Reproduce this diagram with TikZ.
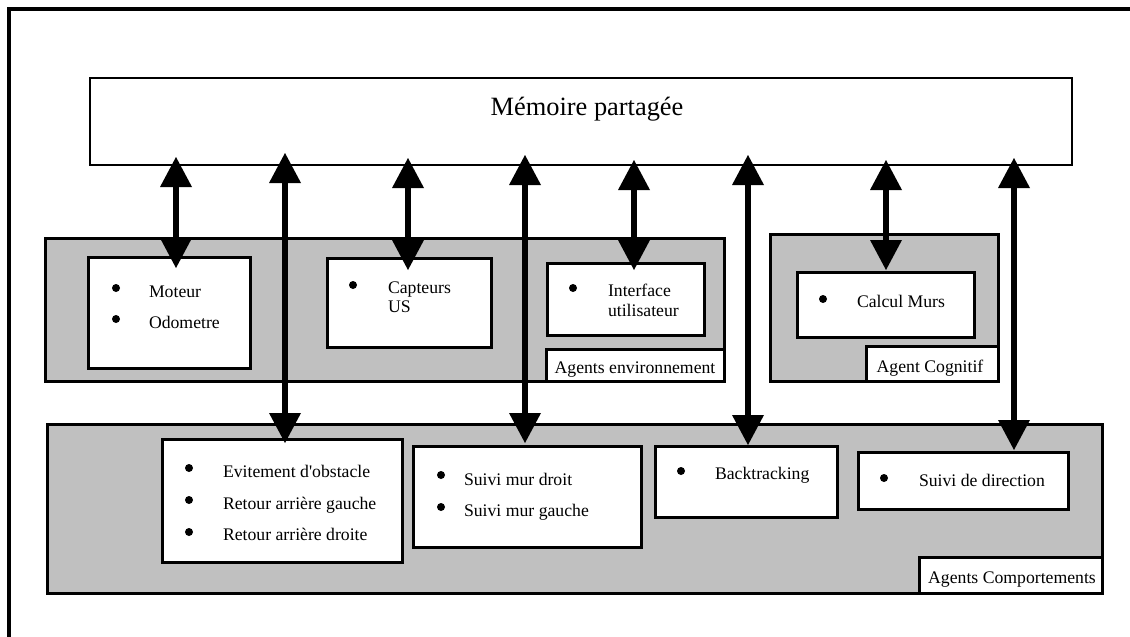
\documentclass[tikz,border=0pt]{standalone}
\usepackage{fontspec}
\setmainfont{Liberation Serif}
\usetikzlibrary{arrows.meta,calc}
\definecolor{boxgray}{RGB}{192,192,192}
\tikzset{
  box/.style={draw, line width=3pt, fill=white, inner sep=0pt, outer sep=0pt, anchor=north west},
  graybox/.style={draw, line width=3pt, fill=boxgray, inner sep=0pt, outer sep=0pt, anchor=north west},
  txt/.style={inner sep=0pt, outer sep=0pt, anchor=base west, font=\fontsize{17.7}{20}\selectfont},
  lbl/.style={inner sep=0pt, outer sep=0pt, anchor=base, font=\fontsize{17.7}{20}\selectfont},
  bul/.style={circle, fill=black, inner sep=0pt, outer sep=0pt, minimum size=8pt},
  tri/.tip={Triangle[length=30pt,width=32pt,line width=0pt]},
  dbl/.style={line width=6.5pt, tri-tri}
}
\begin{document}
\begin{tikzpicture}[x=1pt,y=-1pt]
\useasboundingbox (0,0) rectangle (1130,637);
% outer frame
\draw[line width=4pt] (9,645) -- (9,9) -- (1140,9);
% shared memory
\node[box, line width=2.5pt, minimum width=982pt, minimum height=87pt] (mem) at (90,78) {};
\node[inner sep=0pt, anchor=base, font=\fontsize{26.4}{30}\selectfont] (memtxt) at (587,115) {Mémoire partagée};
% environment agents
\node[graybox, minimum width=679pt, minimum height=143pt] (envg) at (45,238) {};
\node[box, minimum width=162pt, minimum height=111pt] (moteur) at (88,257) {};
\node[box, minimum width=164pt, minimum height=89pt] (capteurs) at (327,258) {};
\node[box, minimum width=157pt, minimum height=72pt] (interface) at (547,263) {};
\node[box, minimum width=178pt, minimum height=32pt] (envlabel) at (546,349) {};
\node[lbl] (envtxt) at (635,373) {Agents environnement};
\node[bul] (b1) at (116,288) {};
\node[txt] (t1) at (149,297) {Moteur};
\node[bul] (b2) at (116,319) {};
\node[txt] (t2) at (149,328) {Odometre};
\node[bul] (b3) at (353,285) {};
\node[txt] (t3) at (388,293) {Capteurs};
\node[txt] (t3b) at (388,312) {US};
\node[bul] (b4) at (573,288) {};
\node[txt] (t4) at (608,296) {Interface};
\node[txt] (t4b) at (608,316) {utilisateur};
% cognitive agent
\node[graybox, minimum width=228pt, minimum height=147pt] (cogg) at (770,234) {};
\node[box, minimum width=177pt, minimum height=65pt] (calcul) at (797,272) {};
\node[box, minimum width=132pt, minimum height=35pt] (coglabel) at (866,346) {};
\node[lbl] (cogtxt) at (930,372) {Agent Cognitif};
\node[bul] (b5) at (823,299) {};
\node[txt] (t5) at (857,307) {Calcul Murs};
% behaviour agents
\node[graybox, minimum width=1055pt, minimum height=169pt] (compg) at (47,424) {};
\node[box, minimum width=240pt, minimum height=123pt] (evit) at (162,439) {};
\node[box, minimum width=228pt, minimum height=101pt] (suivimur) at (413,446) {};
\node[box, minimum width=182pt, minimum height=71pt] (backtr) at (655,446) {};
\node[box, minimum width=210pt, minimum height=57pt] (suividir) at (858,452) {};
\node[box, minimum width=183pt, minimum height=36pt] (complabel) at (919,557) {};
\node[lbl] (comptxt) at (1012,583) {Agents Comportements};
\node[bul] (b6) at (189,468) {};
\node[txt] (t6) at (223,477) {Evitement d\textquotesingle obstacle};
\node[bul] (b7) at (189,500) {};
\node[txt] (t7) at (223,509) {Retour arrière gauche};
\node[bul] (b8) at (189,532) {};
\node[txt] (t8) at (223,540) {Retour arrière droite};
\node[bul] (b9) at (441,475) {};
\node[txt] (t9) at (464,485) {Suivi mur droit};
\node[bul] (b10) at (441,507) {};
\node[txt] (t10) at (464,516) {Suivi mur gauche};
\node[bul] (b11) at (681,471) {};
\node[txt] (t11) at (715,479) {Backtracking};
\node[bul] (b12) at (884,478) {};
\node[txt] (t12) at (919,486) {Suivi de direction};
% arrows
\coordinate (a1) at (176,0);
\coordinate (a2) at (285,0);
\coordinate (a3) at (408,0);
\coordinate (a4) at (525,0);
\coordinate (a5) at (634,0);
\coordinate (a6) at (748,0);
\coordinate (a7) at (886,0);
\coordinate (a8) at (1014,0);
\draw[dbl, shorten <=-8pt, shorten >=-11pt] (mem.south -| a1) -- (moteur.north -| a1);
\draw[dbl, shorten <=-12pt, shorten >=-4pt] (mem.south -| a2) -- (evit.north -| a2);
\draw[dbl, shorten <=-7pt, shorten >=-12pt] (mem.south -| a3) -- (capteurs.north -| a3);
\draw[dbl, shorten <=-10pt, shorten >=3pt] (mem.south -| a4) -- (suivimur.north -| a4);
\draw[dbl, shorten <=-5pt, shorten >=-7pt] (mem.south -| a5) -- (interface.north -| a5);
\draw[dbl, shorten <=-10pt, shorten >=1pt] (mem.south -| a6) -- (backtr.north -| a6);
\draw[dbl, shorten <=-5pt, shorten >=2pt] (mem.south -| a7) -- (calcul.north -| a7);
\draw[dbl, shorten <=-7pt, shorten >=2pt] (mem.south -| a8) -- (suividir.north -| a8);
\end{tikzpicture}
\end{document}
